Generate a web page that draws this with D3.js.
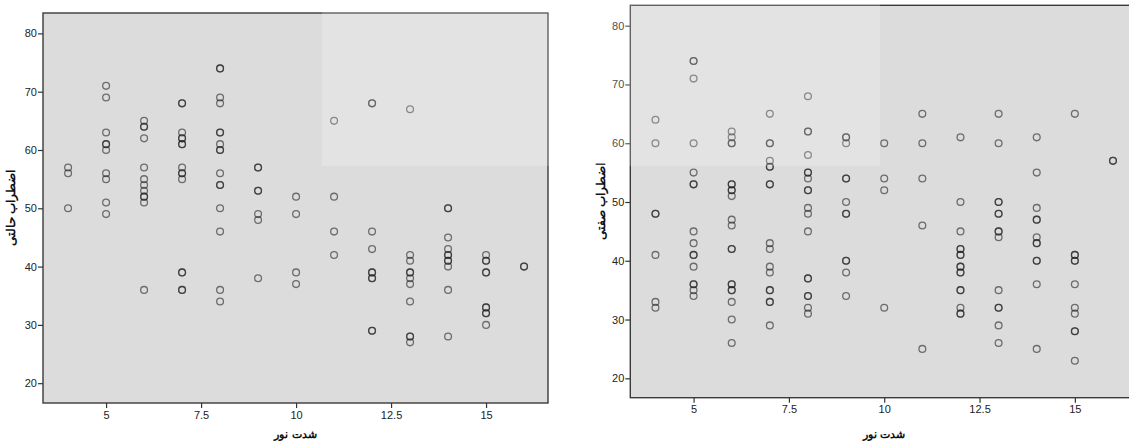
<!DOCTYPE html>
<html>
<head>
<meta charset="utf-8">
<script src="https://cdn.jsdelivr.net/npm/d3@7"></script>
<style>
  body { margin: 0; background: #fff; }
  svg { display: block; font-family: "Liberation Sans", Arial, sans-serif; }
  .axis text { font-size: 11px; fill: #222; }
  .axis line { stroke: #333; stroke-width: 1.2; }
  .axis path { display: none; }
</style>
</head>
<body>
<svg id="chart" width="1129" height="441"></svg>
<script>
// light intensity levels (x) with the anxiety scores
var lightLevels = [4, 5, 6, 7, 8, 9, 10, 11, 12, 13, 14, 15, 16];

var stateAnxiety = [
  [57, 56, 50],
  [71, 69, 63, 61, 61, 60, 56, 55, 51, 49],
  [65, 64, 64, 62, 57, 55, 54, 53, 52, 52, 51, 36],
  [68, 68, 63, 62, 62, 61, 61, 57, 56, 56, 55, 39, 39, 36, 36],
  [74, 74, 69, 68, 63, 63, 61, 60, 60, 56, 54, 54, 50, 46, 36, 34],
  [57, 57, 53, 53, 49, 48, 38],
  [52, 49, 39, 37],
  [65, 52, 46, 42],
  [68, 68, 46, 43, 39, 39, 38, 38, 29, 29],
  [67, 42, 41, 39, 39, 38, 37, 34, 28, 28, 27],
  [50, 50, 45, 43, 42, 42, 41, 41, 40, 36, 28],
  [42, 41, 41, 39, 39, 33, 33, 32, 32, 30],
  [40, 40]
];

var traitAnxiety = [
  [64, 60, 48, 48, 41, 33, 32],
  [74, 74, 71, 60, 55, 53, 53, 45, 43, 41, 41, 39, 36, 36, 35, 34],
  [62, 61, 60, 60, 53, 53, 52, 52, 51, 47, 46, 42, 42, 36, 36, 35, 35, 33, 30, 26],
  [65, 60, 60, 57, 56, 56, 53, 53, 43, 42, 39, 38, 35, 35, 33, 33, 29],
  [68, 62, 62, 58, 55, 55, 54, 52, 52, 49, 48, 45, 37, 37, 34, 34, 32, 31],
  [61, 61, 60, 54, 54, 50, 48, 48, 40, 40, 38, 34],
  [60, 54, 52, 32],
  [65, 60, 54, 46, 25],
  [61, 50, 45, 42, 42, 41, 41, 39, 39, 38, 38, 35, 35, 32, 31, 31],
  [65, 60, 50, 50, 48, 48, 45, 45, 44, 35, 32, 32, 29, 26],
  [61, 55, 49, 47, 47, 44, 43, 43, 40, 40, 36, 25],
  [65, 41, 41, 40, 40, 36, 32, 31, 28, 28, 23],
  [57, 57]
];

var xTicks = [5, 7.5, 10, 12.5, 15];
var yTicks = [20, 30, 40, 50, 60, 70, 80];
var xTitle = 'شدت نور';
var stateTitle = 'اضطراب حالتی';
var traitTitle = 'اضطراب صفتی';

function toPoints(series) {
  var pts = [];
  series.forEach(function(col, i) {
    col.forEach(function(v) { pts.push({x: lightLevels[i], y: v}); });
  });
  return pts;
}

var svg = d3.select('#chart');

function drawPanel(cfg) {
  var g = svg.append('g');
  var xScale = d3.scaleLinear().domain([3.34, 16.63]).range([cfg.left, cfg.right]);
  var yScale = d3.scaleLinear().domain(cfg.yDomain).range([cfg.bottom, cfg.top]);

  g.append('rect')
    .attr('x', cfg.left).attr('y', cfg.top)
    .attr('width', cfg.right - cfg.left)
    .attr('height', cfg.bottom - cfg.top)
    .attr('fill', '#dcdcdc');

  var xAxis = d3.axisBottom(xScale).tickValues(xTicks).tickSize(5).tickPadding(3)
    .tickFormat(function(d) { return String(d); });
  var yAxis = d3.axisLeft(yScale).tickValues(yTicks).tickSize(5).tickPadding(1);

  g.append('g').attr('class', 'axis')
    .attr('transform', 'translate(0,' + cfg.bottom + ')')
    .call(xAxis);
  g.append('g').attr('class', 'axis')
    .attr('transform', 'translate(' + cfg.left + ',0)')
    .call(yAxis);

  g.append('g').selectAll('circle')
    .data(toPoints(cfg.data))
    .join('circle')
    .attr('cx', function(d) { return xScale(d.x); })
    .attr('cy', function(d) { return yScale(d.y); })
    .attr('r', 3.4)
    .attr('fill', 'none')
    .attr('stroke', '#222')
    .attr('stroke-opacity', 0.6)
    .attr('stroke-width', 1.3);

  g.append('rect')
    .attr('x', cfg.left).attr('y', cfg.top)
    .attr('width', cfg.right - cfg.left)
    .attr('height', cfg.bottom - cfg.top)
    .attr('fill', 'none')
    .attr('stroke', '#3a3a3a')
    .attr('stroke-width', 1.4);

  g.append('text')
    .attr('x', (cfg.left + cfg.right) / 2)
    .attr('y', 438)
    .attr('text-anchor', 'middle')
    .attr('font-size', 11)
    .attr('font-weight', 'bold')
    .attr('fill', '#111')
    .text(xTitle);

  var cy = (cfg.top + cfg.bottom) / 2;
  g.append('text')
    .attr('transform', 'translate(' + cfg.labelX + ',' + cy + ') rotate(-90)')
    .attr('text-anchor', 'middle')
    .attr('font-size', 12)
    .attr('font-weight', 'bold')
    .attr('fill', '#111')
    .text(cfg.yTitle);
}

drawPanel({data: stateAnxiety, yTitle: stateTitle, left: 43, right: 548, top: 13, bottom: 403,
  yDomain: [16.6, 83.5], labelX: 15});
drawPanel({data: traitAnxiety, yTitle: traitTitle, left: 630.3, right: 1137, top: 5.3, bottom: 397.7,
  yDomain: [16.7, 83.47], labelX: 605});

// faint lighter band left by the scanned page's watermark
svg.append('rect')
  .attr('x', 322).attr('y', 0).attr('width', 558).attr('height', 166)
  .attr('fill', '#fff').attr('opacity', 0.2);
</script>
</body>
</html>
